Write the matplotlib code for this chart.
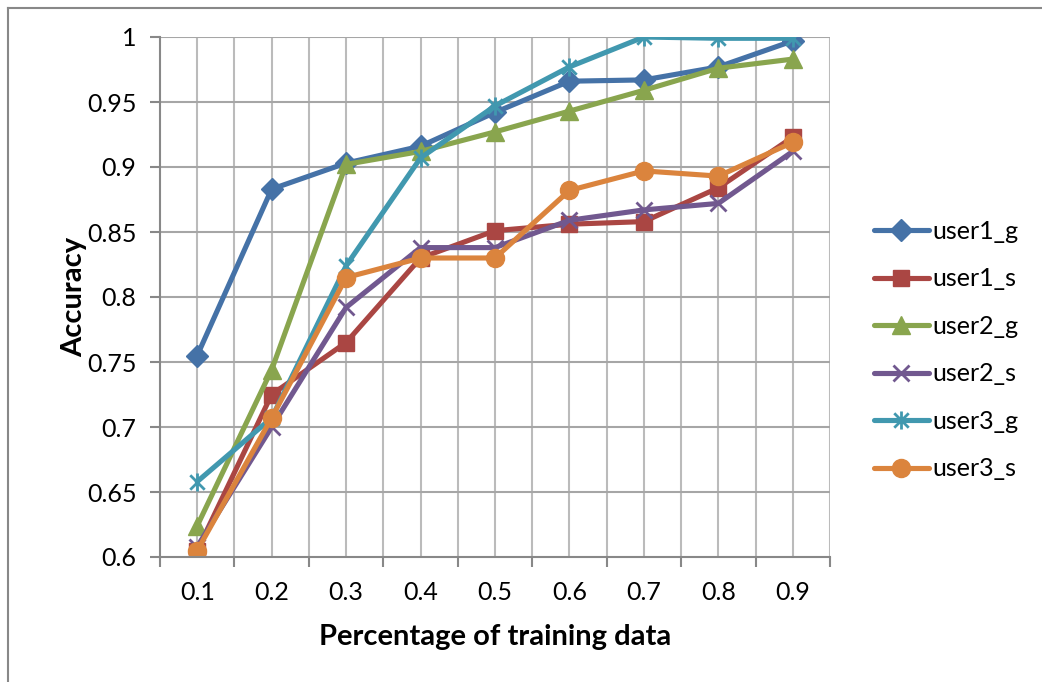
import matplotlib
matplotlib.use("Agg")
import matplotlib.pyplot as plt
from matplotlib.path import Path
from matplotlib.lines import Line2D

plt.rcParams['font.family'] = ['Lato', 'DejaVu Sans']

categories = ['0.1', '0.2', '0.3', '0.4', '0.5', '0.6', '0.7', '0.8', '0.9']

user1_g = [0.755, 0.883, 0.903, 0.916, 0.942, 0.966, 0.967, 0.977, 0.997]
user1_s = [0.605, 0.725, 0.765, 0.830, 0.851, 0.856, 0.858, 0.884, 0.923]
user2_g = [0.624, 0.744, 0.902, 0.912, 0.927, 0.943, 0.959, 0.976, 0.983]
user2_s = [0.608, 0.700, 0.792, 0.838, 0.838, 0.859, 0.867, 0.872, 0.912]
user3_g = [0.658, 0.707, 0.824, 0.907, 0.947, 0.977, 1.000, 0.999, 0.999]
user3_s = [0.605, 0.707, 0.815, 0.830, 0.830, 0.882, 0.897, 0.893, 0.919]

series_names = ['user1_g', 'user1_s', 'user2_g', 'user2_s', 'user3_g', 'user3_s']
series_values = [user1_g, user1_s, user2_g, user2_s, user3_g, user3_s]
colors = ['#4572A7', '#AA4643', '#89A54E', '#71588F', '#4198AF', '#DB843D']

# excel-style star: an x with a vertical stroke through it
star = Path([(-1, -1), (1, 1), (-1, 1), (1, -1), (0, -1.25), (0, 1.25)],
            [Path.MOVETO, Path.LINETO, Path.MOVETO, Path.LINETO, Path.MOVETO, Path.LINETO])
markers = ['D', 's', '^', 'x', star, 'o']
msizes = [11, 12, 13, 12, 13, 13]

fig = plt.figure(figsize=(10.42, 6.82), dpi=100)
ax = fig.add_axes([160 / 1042, 1 - 557 / 682, 670 / 1042, 520 / 682])

# outer chart border (left and top edges visible)
fig.add_artist(Line2D([7.5 / 1042, 7.5 / 1042], [0, 1 - 7.5 / 682], transform=fig.transFigure,
                      color='#888888', lw=1.5))
fig.add_artist(Line2D([7.5 / 1042, 1], [1 - 7.5 / 682, 1 - 7.5 / 682], transform=fig.transFigure,
                      color='#888888', lw=1.5))

x = [i + 0.5 for i in range(len(categories))]
for name, vals, c, m, ms in zip(series_names, series_values, colors, markers, msizes):
    mew = 2 if m in ('x',) or m is star else 1
    ax.plot(x, vals, color=c, lw=3.7, marker=m, markersize=ms, markeredgewidth=mew,
            markerfacecolor=c, markeredgecolor=c, label=name, solid_capstyle='round',
            solid_joinstyle='round')

ax.set_xlim(0, len(categories))
ax.set_ylim(0.6, 1.0)

# vertical grid at category edges and centres, horizontal every 0.05
for gx in [i * 0.5 for i in range(1, 2 * len(categories) + 1)]:
    ax.axvline(gx, color='#BBBBBB', lw=1.5, zorder=0)
yt = [0.6 + 0.05 * i for i in range(9)]
for gy in yt[1:]:
    ax.axhline(gy, color='#A6A6A6', lw=1.5, zorder=0)

ax.set_xticks(range(len(categories) + 1))
ax.set_xticklabels([])
ax.set_xticks(x, minor=True)
ax.set_xticklabels(categories, minor=True)
ax.tick_params(axis='x', which='major', length=7, width=1.5, color='#888888', direction='out')
ax.tick_params(axis='x', which='minor', length=0, pad=17, labelsize=18)

ax.set_yticks(yt)
ax.set_yticklabels(['0.6', '0.65', '0.7', '0.75', '0.8', '0.85', '0.9', '0.95', '1'])
ax.tick_params(axis='y', length=7, width=1.5, color='#888888', direction='out', pad=10, labelsize=18)

for side in ['top', 'right']:
    ax.spines[side].set_visible(False)
for side in ['left', 'bottom']:
    ax.spines[side].set_color('#888888')
    ax.spines[side].set_linewidth(1.5)

ax.set_xlabel('Percentage of training data', fontsize=21, fontweight='bold', labelpad=15)
ax.set_ylabel('Accuracy', fontsize=21, fontweight='bold', labelpad=0)

leg = ax.legend(loc='center left', bbox_to_anchor=(1.032, 0.398), frameon=False, fontsize=18,
                handlelength=2.2, handletextpad=0.15, labelspacing=0.98)

fig.savefig('out.png', dpi=100)
